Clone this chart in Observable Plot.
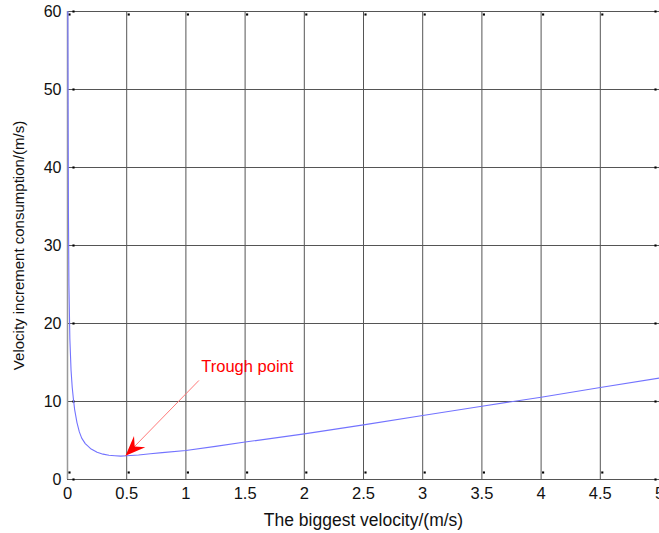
<!DOCTYPE html>
<html>
<head>
<meta charset="utf-8">
<script src="https://cdn.jsdelivr.net/npm/d3@7"></script>
<script src="https://cdn.jsdelivr.net/npm/@observablehq/plot@0.6"></script>
<style>
  html, body { margin: 0; padding: 0; background: #fff; }
  #chart svg { display: block; }
</style>
</head>
<body>
<div id="chart"></div>
<script>
// Data
const velocity = [0.003, 0.005, 0.008, 0.012, 0.02, 0.03, 0.04, 0.05, 0.06, 0.08, 0.1, 0.12, 0.15, 0.2, 0.25, 0.3, 0.35, 0.4, 0.45, 0.5, 0.6, 0.7, 0.8, 1.0, 1.25, 1.5, 2.0, 2.5, 3.0, 3.5, 4.0, 4.5, 5.0];
const consumption = [60, 48, 34, 25, 18, 14, 11.8, 10.3, 9.0, 7.3, 6.1, 5.3, 4.6, 3.9, 3.5, 3.25, 3.1, 3.05, 3.0, 3.05, 3.15, 3.3, 3.45, 3.72, 4.25, 4.8, 5.85, 7.0, 8.2, 9.4, 10.55, 11.8, 13.0];
const xTicks = [0, 0.5, 1, 1.5, 2, 2.5, 3, 3.5, 4, 4.5, 5];
const yTicks = [0, 10, 20, 30, 40, 50, 60];
const xLabel = "The biggest velocity/(m/s)";
const yLabel = "Velocity increment consumption/(m/s)";
const annotationText = ["Trough point"];
const annotationPos = [{x: 1.13, y: 14.4}];
const arrowFrom = [{x: 1.11, y: 12.7}];
const arrowTo = [{x: 0.49, y: 3.05}];

const data = velocity.map((v, i) => ({v, c: consumption[i]}));

// filled MATLAB-like arrowhead, pointing along +x with tip at origin
const dart = {
  draw(ctx) {
    const L = 20, W = 8, N = 13;
    ctx.moveTo(0, 0);
    ctx.lineTo(-L, -W);
    ctx.lineTo(-N, 0);
    ctx.lineTo(-L, W);
    ctx.closePath();
  }
};

const gridColor = "#555";
const font = "'Liberation Sans', Arial, sans-serif";

const chart = Plot.plot({
  width: 659,
  height: 533,
  marginLeft: 67,
  marginRight: 0,
  marginTop: 11,
  marginBottom: 54,
  style: {fontFamily: font, fontSize: "16px", color: "#111", background: "#fff"},
  x: {domain: [0, 5]},
  y: {domain: [0, 60]},
  marks: [
    Plot.ruleX(xTicks, {x: d => d, stroke: gridColor, strokeOpacity: 1, strokeWidth: 1}),
    Plot.ruleY(yTicks, {y: d => d, stroke: gridColor, strokeOpacity: 1, strokeWidth: 1}),
    Plot.ruleX([0], {stroke: "#999", strokeWidth: 1.5}),
    // small inward tick marks
    Plot.dot(xTicks, {x: d => d, y: 0, dy: -7, dx: 2, symbol: "square", r: 1.2, fill: "black", stroke: null}),
    Plot.dot(xTicks, {x: d => d, y: 60, dy: 3, dx: 2, symbol: "square", r: 1.2, fill: "black", stroke: null}),
    Plot.dot(yTicks, {x: 0, y: d => d, dx: 6, symbol: "square", r: 1.2, fill: "black", stroke: null}),
    Plot.dot(yTicks, {x: 5, y: d => d, dx: -4, symbol: "square", r: 1.2, fill: "black", stroke: null}),
    Plot.axisX({ticks: xTicks, tickSize: 0, tickPadding: 8, fontSize: 16.5, tickFormat: d => String(d), label: null}),
    Plot.axisY({ticks: yTicks, tickSize: 0, tickPadding: 6, fontSize: 16, label: null}),
    Plot.text([xLabel], {x: 2.5, y: 0, text: d => d, dy: 41, fontSize: 17.5, fill: "#111", lineAnchor: "middle"}),
    Plot.text([yLabel], {x: 0, y: 30, text: d => d, dx: -48, rotate: -90, fontSize: 15, fill: "#111", lineAnchor: "middle"}),
    Plot.line(data, {x: "v", y: "c", stroke: "#7373ff", strokeWidth: 1.1}),
    Plot.link(arrowFrom.map((a, i) => ({x1: a.x, y1: a.y, x2: arrowTo[i].x, y2: arrowTo[i].y})),
      {x1: "x1", y1: "y1", x2: "x2", y2: "y2", stroke: "#ff7a7a", strokeWidth: 1}),
    Plot.dot(arrowTo, {x: "x", y: "y", symbol: dart, r: 5, fill: "red", stroke: null, rotate: 135}),
    Plot.text(annotationPos.map((p, i) => ({...p, t: annotationText[i]})),
      {x: "x", y: "y", text: "t", fill: "red", fontSize: 16.5, textAnchor: "start"})
  ]
});
document.getElementById("chart").appendChild(chart);
</script>
</body>
</html>
